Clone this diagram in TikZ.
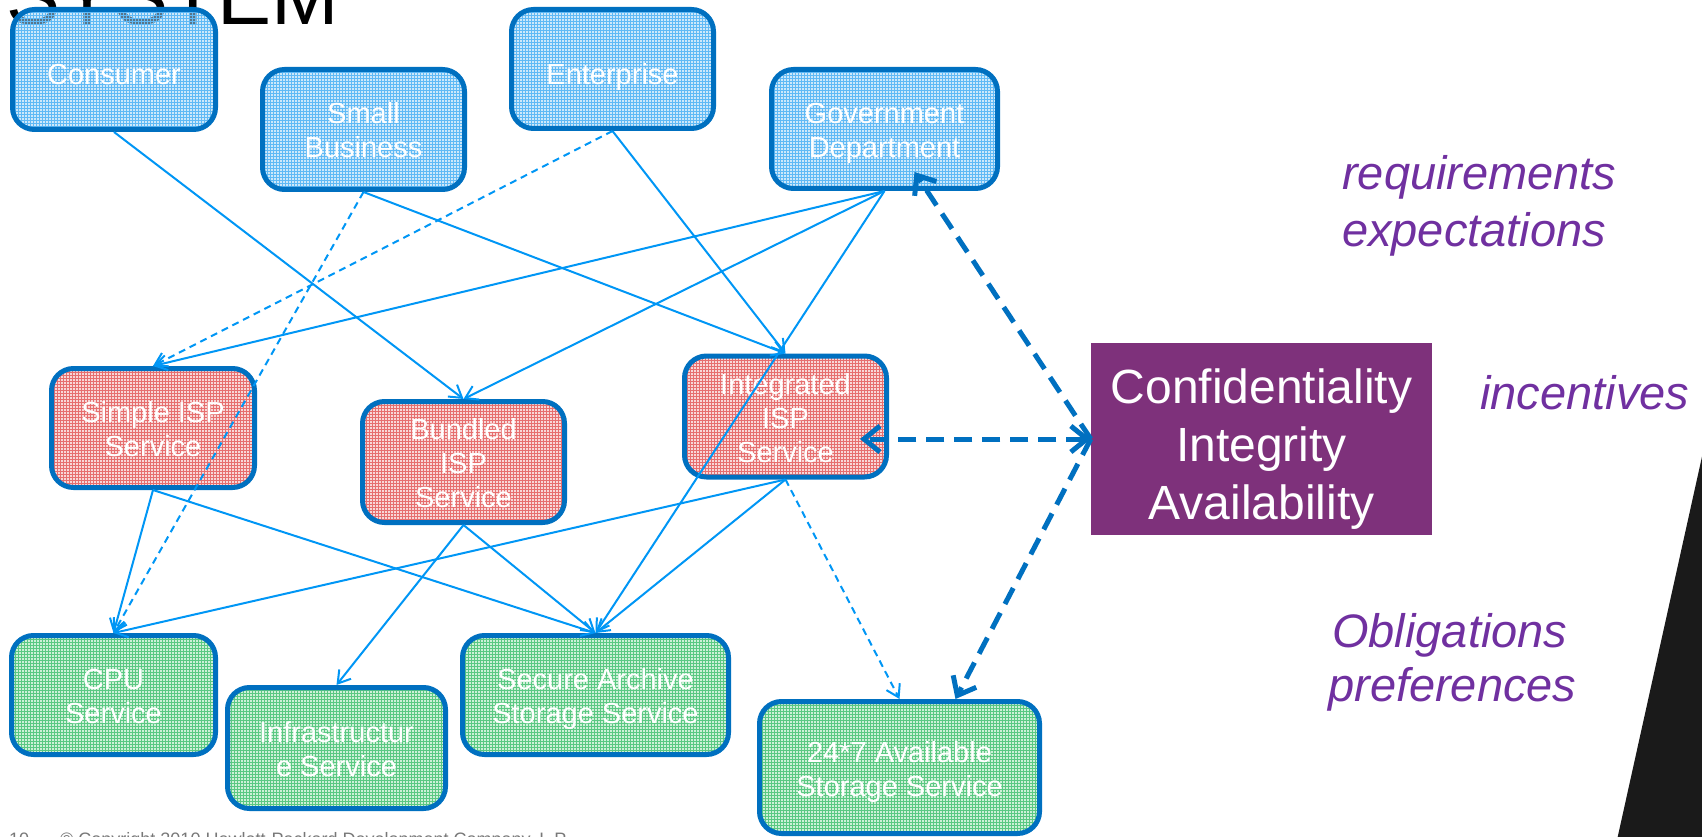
\documentclass[tikz,border=0pt]{standalone}
\usepackage{fontspec}
\setmainfont{Liberation Sans}
\usetikzlibrary{arrows.meta,patterns}

\definecolor{boxline}{RGB}{0,112,192}
\definecolor{linkblue}{RGB}{0,150,245}
\definecolor{bluebase}{RGB}{205,232,250}
\definecolor{consumerbase}{RGB}{164,213,246}
\definecolor{bluegrid}{RGB}{95,185,245}
\definecolor{redbase}{RGB}{248,215,215}
\definecolor{redgrid}{RGB}{230,110,110}
\definecolor{greenbase}{RGB}{205,240,215}
\definecolor{greengrid}{RGB}{90,200,130}
\definecolor{ciafill}{RGB}{126,49,123}
\definecolor{notepurple}{RGB}{112,48,160}
\definecolor{footgrey}{RGB}{120,120,120}
\definecolor{cornerblack}{RGB}{26,26,26}

% invisible struts: a tall one on the first text line and a deep one on the last,
% so that the labels sit where they should inside their boxes
\newcommand{\bt}{\rule{0pt}{38pt}}
\newcommand{\bb}{\rule[-7pt]{0pt}{7pt}}
\newcommand{\bm}{\rule[-15pt]{0pt}{15pt}}
\newcommand{\ct}{\rule{0pt}{56pt}}
\newcommand{\cb}{\rule[-11pt]{0pt}{11pt}}

\begin{document}
\begin{tikzpicture}[x=1pt,y=-1pt,
  box/.style={draw=boxline, line width=5pt, rounded corners=22pt, inner sep=0pt,
    align=center, text=white, font=\fontsize{29}{34}\selectfont},
  dims/.style 2 args={minimum width=#1pt, minimum height=#2pt},
  client/.style={box, preaction={fill=bluebase}, pattern=grid, pattern color=bluegrid},
  isp/.style={box, preaction={fill=redbase}, pattern=grid, pattern color=redgrid},
  service/.style={box, preaction={fill=greenbase}, pattern=grid, pattern color=greengrid},
  link/.style={draw=linkblue, line width=2pt, >={Straight Barb[length=12pt,width=15pt]}, ->},
  optional/.style={link, dash pattern=on 7pt off 5pt},
  ciaflow/.style={draw=boxline, line width=5pt, dash pattern=on 18pt off 10pt,
    >={Straight Barb[length=16pt,width=26pt]}, ->},
  note/.style={text=notepurple, font=\fontsize{47}{56}\selectfont\itshape, inner sep=0pt, anchor=base west},
  foot/.style={text=footgrey, font=\fontsize{18}{18}\selectfont, inner sep=0pt, anchor=base west}]

\useasboundingbox (0,0) rectangle (1702,837);
\clip (0,0) rectangle (1702,837);

% slide heading, partly hidden behind the first box
\node[anchor=base west, inner sep=0pt, font=\fontsize{81}{81}\selectfont] (title) at (6,25) {SYSTEM};

% customers
\node[box, dims={203}{120}, preaction={fill=consumerbase, fill opacity=0.55},
      pattern=grid, pattern color=bluegrid] (cons) at (114,69.5) {\bt Consumer\bb};
\node[client, dims={202}{120}] (small) at (363.5,129.5) {\bt Small\\Business\bm};
\node[client, dims={202}{119}] (ent) at (612.5,69) {\bt Enterprise\bb};
\node[client, dims={226}{119}] (gov) at (884.5,129) {\bt Government\\Department\bm};

% ISP offerings
\node[isp, dims={203}{119}] (simple) at (153,428) {\bt Simple ISP\\Service\bm};
\node[isp, dims={202}{119}] (bundled) at (463.5,462) {\bt Bundled\\ISP\\Service\bm};
\node[isp, dims={202}{118}] (intg) at (785.5,416.5) {\bt Integrated\\ISP\\Service\bm};

% infrastructure services
\node[service, dims={204}{119}] (cpu) at (113.5,695) {\bt CPU\\Service\bm};
\node[service, dims={218}{121}] (infra) at (336.5,748) {\bt Infrastructur\\e Service\bm};
\node[service, dims={266}{119}] (secure) at (595.5,695) {\bt Secure Archive\\Storage Service\bm};
\node[service, dims={280}{132}] (avail) at (899.5,767.5) {\bt 24*7 Available\\Storage Service\bm};

% security properties
\node[fill=ciafill, minimum width=341pt, minimum height=192pt, inner sep=0pt,
      text=white, align=center, font=\fontsize{48}{58}\selectfont] (cia) at (1261.5,439)
      {\ct Confidentiality\\Integrity\\Availability\cb};

% dependencies
\draw[link] (cons.south) -- (bundled.north);
\draw[link] (small.south) -- (intg.north);
\draw[optional] (small.south) -- (cpu.north);
\draw[optional] (ent.south) -- (simple.north);
\draw[link] (ent.south) -- (intg.north);
\draw[link] (gov.south) -- (simple.north);
\draw[link] (gov.south) -- (bundled.north);
\draw[link] (gov.south) -- (secure.north);
\draw[link] (simple.south) -- (cpu.north);
\draw[link] (simple.south) -- (secure.north);
\draw[link] (bundled.south) -- (infra.north);
\draw[link] (bundled.south) -- (secure.north);
\draw[link] (intg.south) -- (cpu.north);
\draw[link] (intg.south) -- (secure.north);
\draw[optional] (intg.south) -- (avail.north);

% flows between the parties and the security properties
\coordinate (govtip) at ([xshift=30pt,yshift=19pt]gov.south);
\coordinate (intgedge) at ([xshift=-29pt]intg.east);
\coordinate (intgtip) at (intgedge |- cia.west);
\coordinate (availtip) at ([xshift=56pt]avail.north);
\draw[ciaflow] (cia.west) -- (govtip);
\draw[ciaflow, <->] (cia.west) -- (intgtip);
\draw[ciaflow] (cia.west) -- (availtip);

% annotations
\node[note] (req) at (1342,190) {requirements};
\node[note] (exp) at (1342,246) {expectations};
\node[note] (inc) at (1480,409) {incentives};
\node[note] (obl) at (1332,647) {Obligations};
\node[note] (pref) at (1328,701) {preferences};

% dark corner shape
\fill[cornerblack] (1703,452) -- (1617,840) -- (1703,840) -- cycle;

% footer
\node[foot] (pageno) at (9,845) {10};
\node[foot] (copy) at (60,845) {© Copyright 2010 Hewlett-Packard Development Company, L.P.};
\end{tikzpicture}
\end{document}
